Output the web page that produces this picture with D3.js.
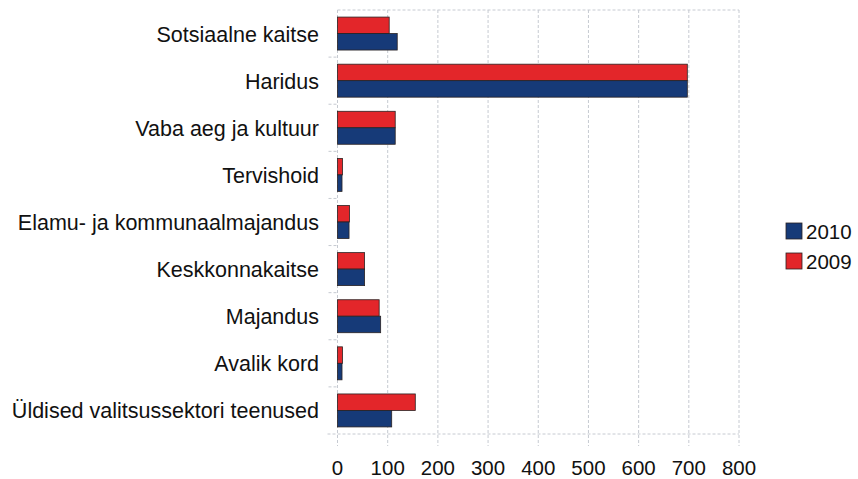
<!DOCTYPE html>
<html>
<head>
<meta charset="utf-8">
<script src="https://cdn.jsdelivr.net/npm/d3@7"></script>
<style>
  body { margin: 0; background: #fff; }
  text { font-family: "Liberation Sans", Arial, sans-serif; fill: #111; }
</style>
</head>
<body>
<div id="chart"></div>
<script>
"use strict";

// categories top to bottom
let categories = [
    "Sotsiaalne kaitse",
    "Haridus",
    "Vaba aeg ja kultuur",
    "Tervishoid",
    "Elamu- ja kommunaalmajandus",
    "Keskkonnakaitse",
    "Majandus",
    "Avalik kord",
    "Üldised valitsussektori teenused"
];

// series values (same order as categories)
let values2009 = [103, 697, 115, 10, 24, 54, 83, 10, 155];
let values2010 = [119, 697, 115, 9, 23, 54, 86, 9, 108];

let seriesNames = ["2009", "2010"];
let xTicks = [0, 100, 200, 300, 400, 500, 600, 700, 800];

let colors = { "2009": "#e3262a", "2010": "#163a78" };

/* SVG SETUP */
let svgWidth = 858;
let svgHeight = 479;

let svg = d3.select("#chart")
    .append("svg")
    .attr("width", svgWidth)
    .attr("height", svgHeight);

// plot area
let plotLeft = 337.5, plotRight = 739, plotTop = 10, plotBottom = 434;

let xScale = d3.scaleLinear()
    .domain([0, 800])
    .range([plotLeft, plotRight]);

let yScale = d3.scaleBand()
    .domain(categories)
    .range([plotTop, plotBottom])
    .paddingInner(0.3)
    .paddingOuter(0.15);

let subScale = d3.scaleBand()
    .domain(seriesNames)
    .range([0, yScale.bandwidth()]);

let gridColor = "#c6cad1";

/* GRID */
let grid = svg.append("g");

// vertical grid lines, running a bit below the bottom line
grid.selectAll("line.v")
    .data(xTicks)
    .enter()
    .append("line")
    .attr("x1", d => xScale(d))
    .attr("x2", d => xScale(d))
    .attr("y1", plotTop)
    .attr("y2", plotBottom + 12)
    .attr("stroke", gridColor)
    .attr("stroke-width", 1)
    .attr("stroke-dasharray", "3,2");

// top border
grid.append("line")
    .attr("x1", plotLeft)
    .attr("x2", plotRight)
    .attr("y1", plotTop)
    .attr("y2", plotTop)
    .attr("stroke", gridColor)
    .attr("stroke-dasharray", "3,2");

// bottom line
grid.append("line")
    .attr("x1", plotLeft - 10)
    .attr("x2", plotRight)
    .attr("y1", plotBottom)
    .attr("y2", plotBottom)
    .attr("stroke", gridColor)
    .attr("stroke-dasharray", "3,2");

// small ticks between categories on the left
let boundaries = categories.slice(1).map(c => yScale(c) - yScale.step() * yScale.paddingInner() / 2);
grid.selectAll("line.t")
    .data(boundaries)
    .enter()
    .append("line")
    .attr("x1", plotLeft - 9)
    .attr("x2", plotLeft)
    .attr("y1", d => d)
    .attr("y2", d => d)
    .attr("stroke", gridColor)
    .attr("stroke-dasharray", "3,2");

/* BARS */
let rows = categories.map((c, i) => ({ cat: c, "2009": values2009[i], "2010": values2010[i] }));

let groups = svg.selectAll("g.row")
    .data(rows)
    .enter()
    .append("g")
    .attr("transform", d => "translate(0," + yScale(d.cat) + ")");

groups.selectAll("rect")
    .data(d => seriesNames.map(s => ({ s: s, v: d[s] })))
    .enter()
    .append("rect")
    .attr("x", xScale(0))
    .attr("y", d => subScale(d.s))
    .attr("width", d => xScale(d.v) - xScale(0))
    .attr("height", subScale.bandwidth())
    .attr("fill", d => colors[d.s])
    .attr("stroke", "#2a2222")
    .attr("stroke-width", 0.8);

/* AXES LABELS */
svg.selectAll("text.cat")
    .data(categories)
    .enter()
    .append("text")
    .attr("x", 319)
    .attr("y", d => yScale(d) + yScale.bandwidth() / 2 + 8)
    .attr("text-anchor", "end")
    .attr("font-size", "21.5px")
    .text(d => d);

svg.selectAll("text.tick")
    .data(xTicks)
    .enter()
    .append("text")
    .attr("x", d => xScale(d))
    .attr("y", 475)
    .attr("text-anchor", "middle")
    .attr("font-size", "20.5px")
    .text(d => d);

/* LEGEND */
let legendOrder = ["2010", "2009"];
let legend = svg.selectAll("g.legend")
    .data(legendOrder)
    .enter()
    .append("g")
    .attr("transform", (d, i) => "translate(786," + (223 + i * 30) + ")");

legend.append("rect")
    .attr("width", 16)
    .attr("height", 16)
    .attr("fill", d => colors[d])
    .attr("stroke", "#2a2222")
    .attr("stroke-width", 0.8);

legend.append("text")
    .attr("x", 20)
    .attr("y", 16)
    .attr("font-size", "20.5px")
    .text(d => d);
</script>
</body>
</html>
